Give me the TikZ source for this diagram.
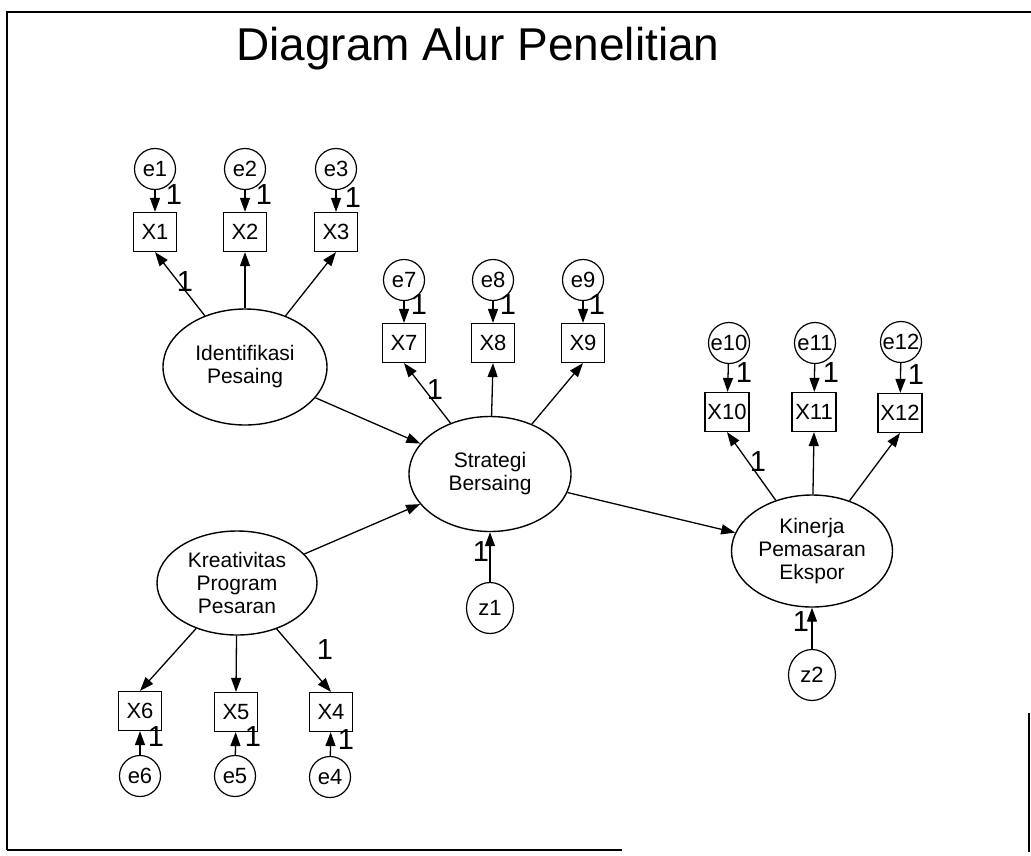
\documentclass[tikz,border=0pt]{standalone}
\usepackage{fontspec}
\setmainfont{Liberation Sans}
\usetikzlibrary{shapes.geometric,arrows.meta}
\tikzset{
  ev/.style={circle, draw, line width=1.2pt, minimum size=41pt, inner sep=0pt, font=\fontsize{22}{24}\selectfont},
  zv/.style={ellipse, draw, line width=1.2pt, minimum width=47pt, minimum height=51pt, inner sep=0pt, font=\fontsize{22}{24}\selectfont},
  ov/.style={rectangle, draw, line width=1.2pt, minimum width=43pt, minimum height=39pt, inner sep=0pt, font=\fontsize{22}{24}\selectfont},
  lv/.style={ellipse, draw, line width=1.4pt, inner sep=0pt, align=center, font=\fontsize{21}{23}\selectfont},
  one/.style={font=\fontsize{29}{29}\selectfont, inner sep=0pt},
  arr/.style={-{Triangle[length=14pt,width=10pt]}, line width=1.3pt},
  frame/.style={line width=2pt}
}
\begin{document}
\begin{tikzpicture}[x=1pt,y=-1pt]
\useasboundingbox (0,0) rectangle (1031,855);
% frame
\coordinate (f1) at (7,850);
\coordinate (f2) at (7,12);
\coordinate (f3) at (1031,12);
\coordinate (f4) at (622,850);
\coordinate (f5) at (1029,713);
\coordinate (f6) at (1029,852);
\draw[frame] (f1) -- (f2) -- (f3);
\draw[frame] (f1) -- (f4);
\draw[line width=1.2pt] (f5) -- (f6);
% title
\node[anchor=base, font=\fontsize{46}{50}\selectfont] (title) at (478,60) {Diagram Alur Penelitian};
% latent variables
\node[lv, minimum width=164pt, minimum height=116pt] (I) at (245,367) {Identifikasi\\Pesaing};
\node[lv, minimum width=162pt, minimum height=115pt] (S) at (490,474) {Strategi\\Bersaing};
\node[lv, minimum width=161pt, minimum height=112pt] (K) at (812,551) {Kinerja\\Pemasaran\\Ekspor};
\node[lv, minimum width=160pt, minimum height=104pt] (R) at (237,583) {Kreativitas\\Program\\Pesaran};
% group 1
\node[ov] (X1) at (155,232) {X1};
\node[ov] (X2) at (245,232) {X2};
\node[ov] (X3) at (336,232) {X3};
\node[ev] (e1) at (155,169) {e1};
\node[ev] (e2) at (245,169) {e2};
\node[ev] (e3) at (336,169) {e3};
% group Strategi
\node[ov] (X7) at (404,343) {X7};
\node[ov] (X8) at (493,343) {X8};
\node[ov] (X9) at (583,343) {X9};
\node[ev] (e7) at (404,280) {e7};
\node[ev] (e8) at (493,280) {e8};
\node[ev] (e9) at (583,280) {e9};
% group Kinerja
\node[ov, minimum width=44pt] (X10) at (727,412) {X10};
\node[ov, minimum width=44pt] (X11) at (814,412) {X11};
\node[ov, minimum width=44pt] (X12) at (900,413) {X12};
\node[ev] (e10) at (729,343) {e10};
\node[ev] (e11) at (815,343) {e11};
\node[ev] (e12) at (901,342) {e12};
% group Kreativitas
\node[ov] (X6) at (140,711) {X6};
\node[ov] (X5) at (236,712) {X5};
\node[ov] (X4) at (331,712) {X4};
\node[ev] (e6) at (140,776) {e6};
\node[ev] (e5) at (235,776) {e5};
\node[ev] (e4) at (330,777) {e4};
% disturbances
\node[zv] (z1) at (490,608) {z1};
\node[zv] (z2) at (812,675) {z2};
% arrows
\foreach \e/\x in {e1/X1,e2/X2,e3/X3,e7/X7,e8/X8,e9/X9,e10/X10,e11/X11,e12/X12,e6/X6,e5/X5,e4/X4}
  \draw[arr] (\e) -- (\x);
\foreach \x in {X1,X2,X3} \draw[arr] (I) -- (\x.south);
\foreach \x in {X7,X8,X9} \draw[arr] (S) -- (\x.south);
\foreach \x in {X10,X11,X12} \draw[arr] (K) -- (\x.south);
\foreach \x in {X6,X5,X4} \draw[arr] (R) -- (\x.north);
\draw[arr] (I) -- (S);
\draw[arr] (R) -- (S);
\draw[arr] (S) -- (K);
\draw[arr] (z1) -- (S);
\draw[arr] (z2) -- (K);
% labels "1"
\node[one] (l1) at (174,195) {1};
\node[one] (l2) at (264,195) {1};
\node[one] (l3) at (353,198) {1};
\node[one] (l4) at (185,282) {1};
\node[one] (l5) at (419,305) {1};
\node[one] (l6) at (508,305) {1};
\node[one] (l7) at (597,305) {1};
\node[one] (l8) at (435,390) {1};
\node[one] (l9) at (744,373) {1};
\node[one] (l10) at (831,373) {1};
\node[one] (l11) at (916,375) {1};
\node[one] (l12) at (758,462) {1};
\node[one] (l13) at (325,650) {1};
\node[one] (l14) at (156,737) {1};
\node[one] (l15) at (253,737) {1};
\node[one] (l16) at (346,740) {1};
\node[one] (l17) at (481,552) {1};
\node[one] (l18) at (801,622) {1};
\end{tikzpicture}
\end{document}
